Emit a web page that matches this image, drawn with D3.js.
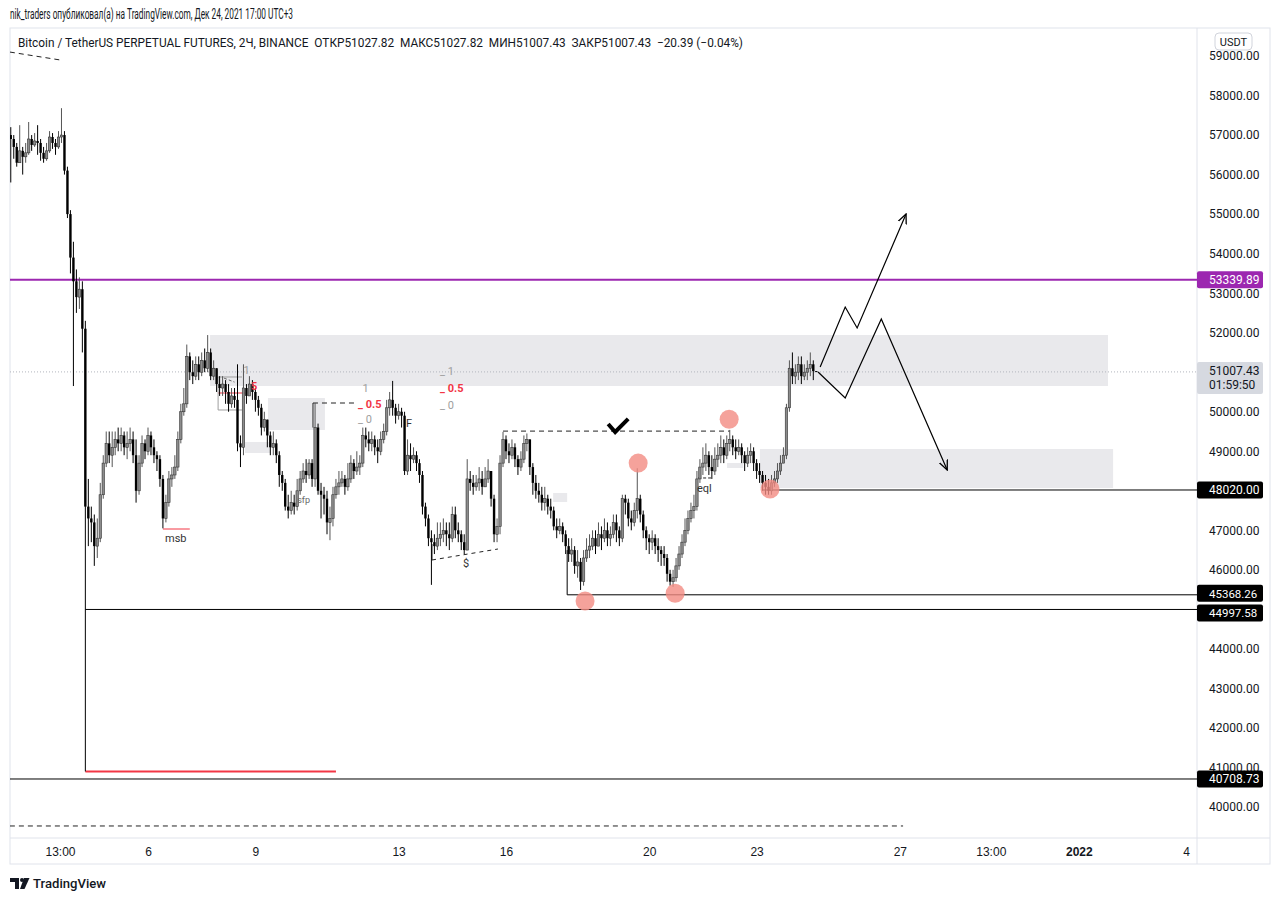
<!DOCTYPE html>
<html>
<head>
<meta charset="utf-8">
<script src="https://cdnjs.cloudflare.com/ajax/libs/d3/7.8.5/d3.min.js"></script>
<style>
  body { margin: 0; background: #fff; }
  svg { display: block; font-family: Roboto, "Noto Sans", sans-serif; }
</style>
</head>
<body>
<div id="chart"></div>
<script>
// BTCUSDT perp, 2h candles, Dec 2 04:00 .. Dec 24 16:00 (UTC+3)
const startTime = new Date(2021, 11, 2, 4, 0);
const firstOpen = 57000;

const closes = [
  56900,56700,56300,56600,56450,56550,56900,56750,56850,56800,
  56550,56400,56600,56950,56800,56700,56950,57000,56100,55000,
  53900,53300,52900,53100,52100,47600,47300,47200,46600,46800,
  47900,48700,49200,48900,49100,49300,49200,49400,49100,49200,
  49300,48900,48000,48700,49200,49000,49400,49100,48900,48800,
  48300,47300,47700,48300,48400,48600,49300,50000,50200,51400,
  51000,50900,51200,51000,51300,51100,51500,50900,51100,50700,
  50600,50700,50500,50200,50400,50300,49200,49100,50600,50400,
  50700,50500,50300,50100,49600,49800,49400,49100,49200,48900,
  48400,48200,47600,47500,47700,47600,48000,48300,48500,48400,
  48700,48300,49600,48000,47900,47800,47200,47300,47900,48100,
  48200,48300,48100,48300,48700,48500,48600,48700,49400,49300,
  49200,49300,49100,49000,49300,49500,50100,50300,50100,49900,
  50000,49900,48500,48900,48800,48900,48700,48400,47600,47300,
  46800,46700,46600,46800,46900,47000,46900,46800,47400,47000,
  46900,46700,46500,48300,48200,48100,48200,48300,48100,48300,
  48500,47800,46900,47100,48700,49300,49000,48900,49100,48800,
  48600,48800,49200,49300,48600,48200,48000,47900,47700,47800,
  47600,47500,47100,47000,47100,46900,46600,46400,46500,46100,
  46200,45700,46300,46500,46600,46800,46600,46900,46800,47000,
  46800,46900,47200,47000,46800,47800,47700,47300,47200,47500,
  47800,47400,47000,46800,46700,46800,46600,46500,46400,46300,
  45900,45700,45800,46100,46400,46700,47000,47300,47500,47600,
  48300,48600,48700,48900,48600,48500,48800,48900,49100,48900,
  49200,49300,49100,49000,49100,48900,48700,48900,49000,48700,
  48500,48400,48200,48100,48000,48200,48300,48500,48700,48900,
  50100,51100,50900,51000,51200,50900,51000,51100,51200,51027.82,
  51007.43
];
const highs = [
  57200,57000,56800,57250,56700,56800,57330,57000,57050,57250,
  56900,56700,56800,57100,57050,56900,57100,57680,57100,56200,
  55100,54300,53600,53400,53300,52300,48300,47600,47400,47300,
  48200,48900,49500,49500,49500,49500,49600,49600,49500,49500,
  49600,49500,49300,48900,49400,49300,49600,49500,49300,49000,
  48900,48400,47900,48500,48600,48900,49500,50200,50600,51700,
  51500,51300,51400,51400,51500,51600,51940,51600,51300,51100,
  50900,50900,50800,50700,50600,50600,51200,49400,51200,50700,
  50900,50800,50600,50400,50200,50000,49800,49500,49500,49300,
  49000,48500,48300,47900,48000,47900,48300,48500,48700,48800,
  48800,48800,50220,49700,48200,48100,48000,47600,48100,48300,
  48500,48500,48400,48700,48900,48800,49000,48900,49600,49600,
  49500,49500,49400,49300,49500,49700,50300,50500,50780,50200,
  50200,50100,50000,49300,49200,49100,49000,48800,48500,47700,
  47400,47000,46900,47200,47200,47300,47200,47200,47600,47600,
  47200,47000,46900,48800,48500,48400,48400,48600,48500,48600,
  48800,48500,47900,47300,48900,49490,49400,49200,49300,49200,
  48900,49000,49400,49450,49300,48700,48400,48200,48100,48100,
  47900,47800,47600,47300,47300,47200,47000,46800,46800,46600,
  46500,46300,46500,46800,46900,47000,47000,47200,47100,47300,
  47200,47100,47400,47400,47100,47900,47900,47800,47500,47700,
  48570,47900,47500,47100,46900,47000,46900,46800,46600,46600,
  46400,46000,46000,46300,46600,46900,47300,47500,47700,47900,
  48500,48800,49100,49200,49000,48900,49100,49200,49400,49300,
  49400,49540,49400,49300,49300,49200,49000,49100,49200,49100,
  48800,48700,48500,48400,48300,48400,48500,48700,48900,49100,
  50200,51300,51500,51200,51400,51400,51200,51300,51500,51300,
  51027.82
];
const lows = [
  55800,56400,56200,56300,56000,56300,56500,56600,56700,56500,
  56350,56300,56350,56550,56650,56500,56650,56800,56000,54900,
  53500,50650,52500,52600,51500,40900,46600,46700,46100,46300,
  46700,47800,48600,48700,48600,48900,49000,49000,48900,48800,
  49000,48700,47700,47900,48600,48800,48900,48900,48700,48500,
  48100,47050,47200,47600,48100,48300,48500,49200,49900,50100,
  50800,50700,50800,50800,50900,51000,51000,50800,50800,50500,
  50400,50400,50200,50000,50100,50100,49000,48600,48900,50200,
  50400,50300,50000,49900,49400,49500,49100,48900,48900,48700,
  48100,48000,47500,47300,47400,47400,47500,47900,48200,48200,
  48300,48100,48100,47900,47300,47400,46900,46750,47100,47800,
  47900,48100,47900,48000,48200,48300,48400,48400,48600,49100,
  49000,49000,48900,48700,48900,49200,49400,49900,49900,49700,
  49800,49600,48400,48400,48500,48700,48500,48200,47400,47100,
  46600,45620,46400,46500,46600,46700,46600,46500,46700,46800,
  46700,46500,46400,46500,48000,47900,48000,48000,47900,48100,
  48200,47600,46700,46700,46900,48600,48800,48700,48800,48600,
  48400,48500,48700,49000,48400,47900,47800,47700,47500,47500,
  47400,47300,47000,46800,46900,46700,46400,46200,46200,45900,
  45800,45490,45600,46200,46300,46500,46400,46600,46500,46700,
  46600,46600,46800,46700,46600,46700,47400,47100,47000,47100,
  47300,47200,46800,46500,46400,46500,46400,46200,46100,46100,
  45700,45600,45570,45700,46000,46300,46600,46900,47200,47300,
  47500,48200,48400,48500,48400,48300,48400,48600,48700,48700,
  48800,49000,48900,48800,48900,48700,48500,48600,48700,48500,
  48300,48200,48000,47900,47900,47900,48100,48200,48400,48700,
  48800,50000,50700,50700,50800,50700,50800,50800,50900,50800,
  51007.43
];

const priceTicks = [40000,41000,42000,43000,44000,45000,46000,47000,48000,49000,
  50000,51000,52000,53000,54000,55000,56000,57000,58000,59000];
const timeTicks = [
  new Date(2021, 11, 3, 13), new Date(2021, 11, 6), new Date(2021, 11, 9),
  new Date(2021, 11, 13), new Date(2021, 11, 16), new Date(2021, 11, 20),
  new Date(2021, 11, 23), new Date(2021, 11, 27), new Date(2021, 11, 29, 13),
  new Date(2022, 0, 1), new Date(2022, 0, 4)
];
const timeLabels = ['13:00', '6', '9', '13', '16', '20', '23', '27', '13:00', '2022', '4'];

// horizontal levels drawn on the chart
const purpleLevel = 53339.89;
const level48020 = 48020.00;
const level45368 = 45368.26;
const level44997 = 44997.58;
const level40708 = 40708.73;
const lastPrice = 51007.43;
// axis ticks sitting under a price tag (hidden there in the reference)
const coveredTicks = [51000, 48000, 45000];

// annotation values: [candle index, price]
const zones = [  // [startIdx, endIdx, top, bottom]
  [66.8, 367.8, 51941, 50651],
  [86.2, 105.3, 50347, 49538],
  [78.5, 86.9, 49234, 48956],
  [251.1, 369.5, 49057, 48070],
  [181.8, 186.5, 47944, 47716],
  [240.1, 245.5, 48703, 48576]
];
const swingCircles = [[192.5, 45210], [210.3, 48700], [222.7, 45410], [240.8, 49810], [254.5, 48045]];
const bullPath = [[271.3, 51132], [279.7, 52650], [283.7, 52118], [300.1, 55003]];
const bearPath = [[270.6, 51005], [279.7, 50347], [291.8, 52346], [313.9, 48526]];

const header = 'nik_traders опубликовал(а) на TradingView.com, Дек 24, 2021 17:00 UTC+3';
const legend = 'Bitcoin / TetherUS PERPETUAL FUTURES, 2Ч, BINANCE  ОТКР51027.82  МАКС51027.82  МИН51007.43  ЗАКР51007.43  −20.39 (−0.04%)';

const W = 1280, H = 901;
const plot = { left: 10, right: 1197, top: 28, bottom: 838 };

const svg = d3.select('#chart').append('svg').attr('width', W).attr('height', H);

const x = d3.scaleTime()
  .domain([new Date(2021, 11, 2), new Date(2022, 0, 5)])
  .range([4.8, 1222]);
const y = d3.scaleLinear().domain([40000, 59000]).range([807, 56]);

const tAt = i => new Date(startTime.getTime() + i * 2 * 3600 * 1000);
const xi = i => x(tAt(i));

const candles = closes.map((c, i) => ({
  i, o: i === 0 ? firstOpen : closes[i - 1], c, h: highs[i], l: lows[i]
}));

// frame
svg.append('rect').attr('x', plot.left).attr('y', plot.top)
  .attr('width', 1270 - plot.left).attr('height', 864 - plot.top)
  .attr('fill', 'none').attr('stroke', '#e0e3eb');
svg.append('line').attr('x1', plot.right).attr('x2', plot.right).attr('y1', plot.top).attr('y2', 864).attr('stroke', '#e0e3eb');
svg.append('line').attr('x1', plot.left).attr('x2', 1270).attr('y1', plot.bottom).attr('y2', plot.bottom).attr('stroke', '#e0e3eb');

svg.append('defs').append('clipPath').attr('id', 'clip')
  .append('rect').attr('x', plot.left).attr('y', plot.top)
  .attr('width', plot.right - plot.left).attr('height', plot.bottom - plot.top);

const g = svg.append('g').attr('clip-path', 'url(#clip)');

// zones
g.selectAll('rect.zone').data(zones).enter().append('rect')
  .attr('class', 'zone')
  .attr('x', d => xi(d[0])).attr('width', d => xi(d[1]) - xi(d[0]))
  .attr('y', d => y(d[2])).attr('height', d => y(d[3]) - y(d[2]))
  .attr('fill', '#e9e9ec');

// last price dotted line
g.append('line').attr('x1', plot.left).attr('x2', plot.right)
  .attr('y1', y(lastPrice)).attr('y2', y(lastPrice))
  .attr('stroke', '#b2b5be').attr('stroke-dasharray', '1,2');

// levels
const hline = (p, i0, color, w, dash) => g.append('line')
  .attr('x1', i0 === null ? plot.left : xi(i0)).attr('x2', plot.right)
  .attr('y1', y(p)).attr('y2', y(p))
  .attr('stroke', color).attr('stroke-width', w).attr('stroke-dasharray', dash || null);

hline(purpleLevel, null, '#9c27b0', 2);
hline(level40708, null, '#000', 1);
hline(level48020, 252, '#000', 1);
hline(level45368, 186.5, '#000', 1);
hline(level44997, 25, '#000', 1);

const seg = (a, b, color, w, dash) => g.append('line')
  .attr('x1', xi(a[0])).attr('y1', y(a[1])).attr('x2', xi(b[0])).attr('y2', y(b[1]))
  .attr('stroke', color).attr('stroke-width', w || 1).attr('stroke-dasharray', dash || null);

seg([186.5, 46500], [186.5, level45368], '#000', 1);
seg([25, 40900], [109, 40900], '#f23645', 2);
seg([51, 47033], [60, 47033], '#f23645', 1);
seg([-0.3, 39520], [299.1, 39520], '#222', 1, '5,4');
seg([-0.3, 59100], [16.5, 58900], '#222', 1, '5,4');
seg([165, 49510], [241, 49510], '#222', 1, '5,4');
seg([101.3, 50221], [116, 50221], '#222', 1, '5,4');
seg([101.3, 50221], [101.3, 49600], '#222', 1);
seg([141.2, 46249], [163.3, 46527], '#222', 1, '4,4');
seg([141.2, 46249], [141.2, 46650], '#222', 1);
seg([230.4, 48324], [235.4, 48324], '#222', 1, '3,2');

// fib set near Dec 8
seg([69.5, 50879], [77.5, 50879], '#9e9e9e', 1);
seg([69.5, 50474], [78.5, 50474], '#f23645', 1);
seg([69.5, 50044], [77.5, 50044], '#9e9e9e', 1);
seg([69.5, 50879], [69.5, 50044], '#9e9e9e', 1);
seg([71.5, 50850], [75, 50750], '#666', 1, '3,2');

// candles
const cg = g.append('g');
cg.selectAll('line.wick').data(candles).enter().append('line')
  .attr('x1', d => xi(d.i)).attr('x2', d => xi(d.i))
  .attr('y1', d => y(d.h)).attr('y2', d => y(d.l))
  .attr('stroke', d => d.c >= d.o ? '#555' : '#000').attr('stroke-width', 1);
cg.selectAll('rect.body').data(candles).enter().append('rect')
  .attr('x', d => xi(d.i) - 1.2).attr('width', 2.4)
  .attr('y', d => y(Math.max(d.o, d.c)))
  .attr('height', d => Math.max(1, Math.abs(y(d.o) - y(d.c))))
  .attr('fill', d => d.c >= d.o ? '#8c8c8c' : '#000')
  .attr('stroke', d => d.c >= d.o ? '#333' : 'none').attr('stroke-width', 0.6);

// circles
g.selectAll('circle.swing').data(swingCircles).enter().append('circle')
  .attr('cx', d => xi(d[0])).attr('cy', d => y(d[1])).attr('r', 9.5)
  .attr('fill', '#f28b82').attr('opacity', 0.8);

// arrows
svg.append('defs').append('marker').attr('id', 'arrow')
  .attr('viewBox', '0 0 10 10').attr('refX', 9).attr('refY', 5)
  .attr('markerWidth', 9).attr('markerHeight', 9).attr('orient', 'auto')
  .append('path').attr('d', 'M0,1 L9,5 L0,9').attr('fill', 'none').attr('stroke', '#000').attr('stroke-width', 1.2);
const line = d3.line().x(d => xi(d[0])).y(d => y(d[1]));
[bullPath, bearPath].forEach(p => g.append('path').attr('d', line(p))
  .attr('fill', 'none').attr('stroke', '#000').attr('stroke-width', 1.2)
  .attr('marker-end', 'url(#arrow)'));

// checkmark
const ck = [xi(203.6), y(49615)];
g.append('path')
  .attr('d', `M${ck[0] - 10},${ck[1] - 3} L${ck[0] - 3},${ck[1] + 5} L${ck[0] + 10},${ck[1] - 8}`)
  .attr('fill', 'none').attr('stroke', '#000').attr('stroke-width', 4);

// texts on chart
const txt = (i, p, s, color, size, weight) => g.append('text')
  .attr('x', xi(i)).attr('y', y(p)).text(s)
  .attr('fill', color).attr('font-size', size || 11).attr('font-weight', weight || 400);
txt(55.7 - 4, 46700, 'msb', '#333', 11);
txt(152.6 - 1, 46060, '$', '#333', 11);
txt(233 - 3, 47980, 'eql', '#333', 11);
txt(132.5, 49620, 'F', '#333', 11);
txt(96, 47700, 'sfp', '#666', 9);
txt(78, 50960, '1', '#9e9e9e', 11);
txt(80.5, 50540, '5', '#f23645', 11, 700);
txt(116.4 + 1.5, 50500, '1', '#9e9e9e', 11);
txt(116.4, 50090, '_ 0.5', '#f23645', 11, 700);
txt(116.4, 49710, '_ 0', '#9e9e9e', 11);
txt(143.9, 50930, '_ 1', '#9e9e9e', 11);
txt(143.9, 50500, '_ 0.5', '#f23645', 11, 700);
txt(143.9, 50070, '_ 0', '#9e9e9e', 11);

// price axis
const yAxis = svg.append('g').attr('transform', `translate(${plot.right},0)`)
  .call(d3.axisRight(y).tickValues(priceTicks).tickFormat(d3.format('.2f')).tickSize(0).tickPadding(12));
yAxis.select('.domain').remove();
yAxis.selectAll('text').attr('font-size', 12).attr('fill', '#131722').attr('font-family', 'Roboto, sans-serif')
  .attr('display', d => coveredTicks.includes(d) ? 'none' : null);

// time axis
const xAxis = svg.append('g').attr('transform', `translate(0,${plot.bottom})`)
  .call(d3.axisBottom(x).tickValues(timeTicks).tickFormat((d, i) => timeLabels[i]).tickSize(0).tickPadding(9));
xAxis.select('.domain').remove();
xAxis.selectAll('text').attr('font-size', 12).attr('fill', '#131722')
  .attr('font-weight', (d, i) => timeLabels[i] === '2022' ? 700 : 400);

// price labels (shift moves a tag off a neighbour, in px)
const tag = (p, bg, fg, extra, shift, size) => {
  const yy = y(p) + (shift || 0);
  const h = extra ? 32 : 17;
  const top = extra ? yy - 10 : yy - 8.5;
  svg.append('rect').attr('x', plot.right).attr('y', top).attr('width', 66).attr('height', h)
    .attr('rx', 2).attr('fill', bg);
  svg.append('text').attr('x', 1209).attr('y', top + 13).text(d3.format('.2f')(p))
    .attr('font-size', size || 12).attr('fill', fg);
  if (extra) svg.append('text').attr('x', 1209).attr('y', top + 27).text(extra)
    .attr('font-size', 12).attr('fill', fg);
};
tag(purpleLevel, '#9c27b0', '#fff');
tag(lastPrice, '#d6d9e0', '#131722', '01:59:50');
tag(level48020, '#000', '#fff');
tag(level45368, '#000', '#fff', null, -1.5, 11.5);
tag(level44997, '#000', '#fff', null, 3.5, 11.5);
tag(level40708, '#000', '#fff');

// currency box
svg.append('rect').attr('x', 1215).attr('y', 33).attr('width', 37).attr('height', 17)
  .attr('rx', 4).attr('fill', '#fff').attr('stroke', '#d1d4dc');
svg.append('text').attr('x', 1233.5).attr('y', 46).attr('text-anchor', 'middle')
  .text('USDT').attr('font-size', 11).attr('fill', '#131722');

// header + legend
svg.append('text').attr('x', 10).attr('y', 19).text(header)
  .attr('font-size', 14.5).attr('fill', '#131722')
  .attr('textLength', 283).attr('lengthAdjust', 'spacingAndGlyphs');
svg.append('text').attr('x', 18).attr('y', 47).text(legend)
  .attr('font-size', 12).attr('fill', '#131722').attr('xml:space', 'preserve')
  .attr('textLength', 725).attr('lengthAdjust', 'spacingAndGlyphs');

// footer logo
const lg = svg.append('g').attr('fill', '#131722');
lg.append('path').attr('d', 'M10,878 h9 v11 h-4 v-7 h-5z');
lg.append('circle').attr('cx', 22).attr('cy', 880).attr('r', 2);
lg.append('path').attr('d', 'M24,878 h5.5 l-5,11 h-4.5z');
svg.append('text').attr('x', 33).attr('y', 888).text('TradingView')
  .attr('font-size', 13).attr('font-weight', 500).attr('fill', '#131722')
  .attr('textLength', 73).attr('lengthAdjust', 'spacingAndGlyphs');
</script>
</body>
</html>
